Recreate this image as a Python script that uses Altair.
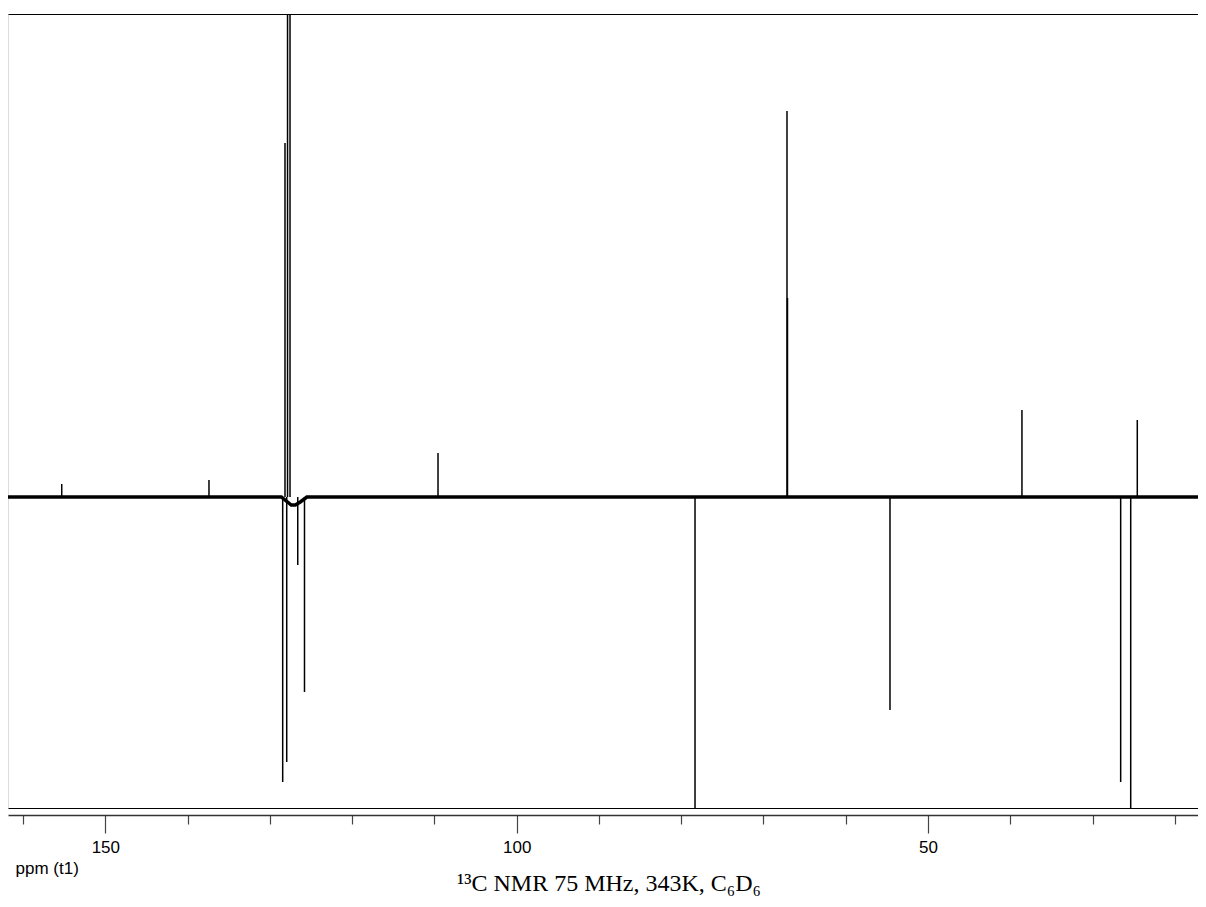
import altair as alt
import pandas as pd

# Peak positions (ppm) and signed intensities (arbitrary units)
pos_ppm = [155.3, 137.4, 128.16, 127.85, 127.55, 109.56, 67.14, 67.08, 38.58, 24.56]
pos_int = [0.13, 0.17, 3.54, 6.0, 6.5, 0.44, 3.86, 1.99, 0.87, 0.77]

neg_ppm = [128.44, 127.95, 126.61, 125.79, 78.32, 54.62, 26.58, 25.36]
neg_int = [-2.85, -2.65, -0.68, -1.95, -3.5, -2.13, -2.85, -3.5]

# Baseline trace (ppm, intensity) incl. the small dip after the aromatic group
base_ppm = [161.83, 128.6, 127.4, 126.9, 126.3, 125.5, 17.18]
base_int = [0.0, 0.0, -0.08, -0.08, -0.05, 0.0, 0.0]

x_domain = [17.18, 161.83]
y_domain = [-3.11, 4.83]
tick_values = [20, 30, 40, 50, 60, 70, 80, 90, 100, 110, 120, 130, 140, 150, 160]

pos = pd.DataFrame({"ppm": pos_ppm, "intensity": pos_int, "zero": [0.0] * len(pos_ppm)})
neg = pd.DataFrame({"ppm": neg_ppm, "intensity": neg_int, "zero": [0.0] * len(neg_ppm)})
base = pd.DataFrame({"ppm": base_ppm, "intensity": base_int})

x_scale = alt.Scale(domain=x_domain, reverse=True, zero=False, nice=False)
y_scale = alt.Scale(domain=y_domain, zero=False, nice=False)

# frame lines (top / left / bottom) drawn as bare axis domains
frame_top = alt.Axis(orient="top", labels=False, ticks=False, title=None, grid=False,
                     domainColor="black", domainWidth=1)
frame_left = alt.Axis(orient="left", labels=False, ticks=False, title=None, grid=False,
                      domainColor="black", domainWidth=1)
frame_bottom = alt.Axis(orient="bottom", labels=False, ticks=False, title=None, grid=False,
                        domainColor="black", domainWidth=1)

ppm_axis = alt.Axis(
    orient="bottom",
    values=tick_values,
    labelExpr="datum.value % 50 === 0 ? datum.label : ''",
    tickSize={"condition": {"test": "datum.value % 50 === 0", "value": 18}, "value": 9},
    offset=7,
    grid=False,
    domainColor="#333333",
    domainWidth=1.5,
    tickColor="#444444",
    tickWidth=1.2,
    labelFont="Liberation Sans",
    labelFontSize=17,
    labelColor="black",
    labelPadding=6,
    title="ppm (t1)",
    titleFont="Liberation Sans",
    titleFontSize=17,
    titleFontWeight="normal",
    titleColor="black",
    titleAnchor="start",
    titleAlign="left",
    titleBaseline="alphabetic",
    titleX=7,
    titleY=58,
)

baseline = alt.Chart(base).mark_line(color="black", strokeWidth=3.5, clip=True).encode(
    x=alt.X("ppm:Q", scale=x_scale, axis=frame_top),
    y=alt.Y("intensity:Q", scale=y_scale, axis=frame_left),
)

pos_sticks = alt.Chart(pos).mark_rule(color="black", strokeWidth=1.5, clip=True).encode(
    x=alt.X("ppm:Q", scale=x_scale, axis=frame_bottom),
    y=alt.Y("zero:Q", scale=y_scale, axis=None),
    y2="intensity:Q",
)

neg_sticks = alt.Chart(neg).mark_rule(color="black", strokeWidth=1.5, clip=True).encode(
    x=alt.X("ppm:Q", scale=x_scale, axis=ppm_axis),
    y=alt.Y("zero:Q", scale=y_scale, axis=None),
    y2="intensity:Q",
)

chart = alt.layer(baseline, pos_sticks, neg_sticks).resolve_axis(x="independent").properties(
    width=1190,
    height=794,
    autosize=alt.AutoSizeParams(type="none"),
    padding={"left": 0, "top": 6, "right": 0, "bottom": 91},
    title=alt.TitleParams(
        text="¹³C NMR 75 MHz, 343K, C₆D₆",
        orient="bottom",
        anchor="middle",
        font="Liberation Serif",
        fontSize=24,
        fontWeight="normal",
        color="black",
        offset=-4,
        dx=6,
    ),
).configure_view(stroke=None).configure(background="white")

chart.save("out.html", embed_options={"renderer": "svg", "actions": False})
